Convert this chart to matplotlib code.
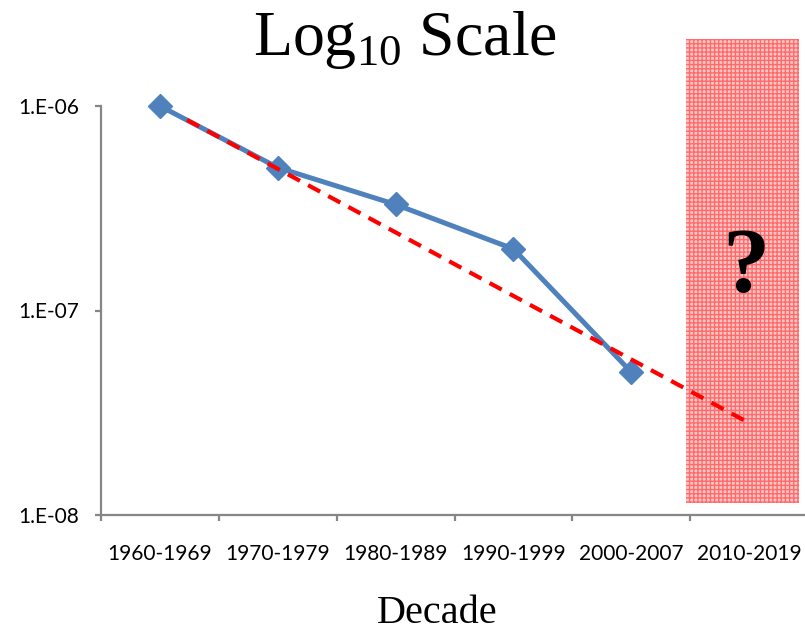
import matplotlib
matplotlib.use("Agg")
import matplotlib.pyplot as plt
from matplotlib.patches import Rectangle
import numpy as np

# ---- data ----
decades = ["1960-1969", "1970-1979", "1980-1989", "1990-1999", "2000-2007", "2010-2019"]
values = [1.0e-6, 5.0e-7, 3.3e-7, 2.0e-7, 5.0e-8]
trend_x = [0.23, 4.97]
trend_y = [8.55e-7, 2.88e-8]
ytick_vals = [1e-8, 1e-7, 1e-6]
ytick_labels = ["1.E-08", "1.E-07", "1.E-06"]
shade_x = [4.465, 5.424]
shade_y = [1.145e-8, 2.13e-6]

W, H = 805, 633
fig = plt.figure(figsize=(W / 100, H / 100), dpi=100)
ax = fig.add_axes([101 / W, 1 - 515 / H, 707 / W, (515 - 106) / H])

gray = "#868686"
blue = "#4F81BD"

ax.set_yscale("log")
ax.set_ylim(1e-8, 1e-6)
ax.set_xlim(-0.5, len(decades) - 0.5)

# shaded forecast region
rect = Rectangle((shade_x[0], shade_y[0]), shade_x[1] - shade_x[0], shade_y[1] - shade_y[0],
                 facecolor="#FFC8C8", edgecolor="#FF6A6A", hatch="++++", linewidth=0,
                 clip_on=False, zorder=1)
ax.add_patch(rect)

xs = np.arange(len(values))
ax.plot(xs, values, color=blue, linewidth=3.6, marker="D", markersize=12,
        markerfacecolor=blue, markeredgecolor=blue, zorder=3, clip_on=False)
ax.plot(trend_x, trend_y, color="#FF0000", linewidth=3, dashes=(3.3, 2.2),
        zorder=4, clip_on=False)

ax.text(4.97, 1.23e-7, "?", fontsize=68, fontweight="bold", family="Liberation Serif",
        ha="center", va="baseline", zorder=5)

for s in ["top", "right"]:
    ax.spines[s].set_visible(False)
for s in ["left", "bottom"]:
    ax.spines[s].set_color(gray)
    ax.spines[s].set_linewidth(1.6)

ax.set_yticks(ytick_vals)
ax.set_yticklabels(ytick_labels)
ax.yaxis.set_minor_locator(matplotlib.ticker.NullLocator())
ax.tick_params(axis="y", which="major", length=4.5, width=1.6, color=gray, pad=11,
               labelsize=15)

ax.set_xticks(np.arange(len(decades) + 1) - 0.5)
ax.set_xticklabels([])
ax.set_xticks(np.arange(len(decades)), minor=True)
ax.set_xticklabels(decades, minor=True)
ax.tick_params(axis="x", which="major", length=4.5, width=1.6, color=gray)
ax.tick_params(axis="x", which="minor", length=0, pad=21, labelsize=15)

for lab in ax.get_yticklabels() + ax.get_xticklabels(minor=True):
    lab.set_family("Lato")

fig.text(405 / W, 1 - 55 / H, r"Log$_{\mathregular{10}}$ Scale", fontsize=46,
         family="Liberation Serif", ha="center", va="baseline")
fig.text(437 / W, 1 - 623 / H, "Decade", fontsize=29, family="Liberation Serif",
         ha="center", va="baseline")

fig.savefig("out.png", dpi=100)
